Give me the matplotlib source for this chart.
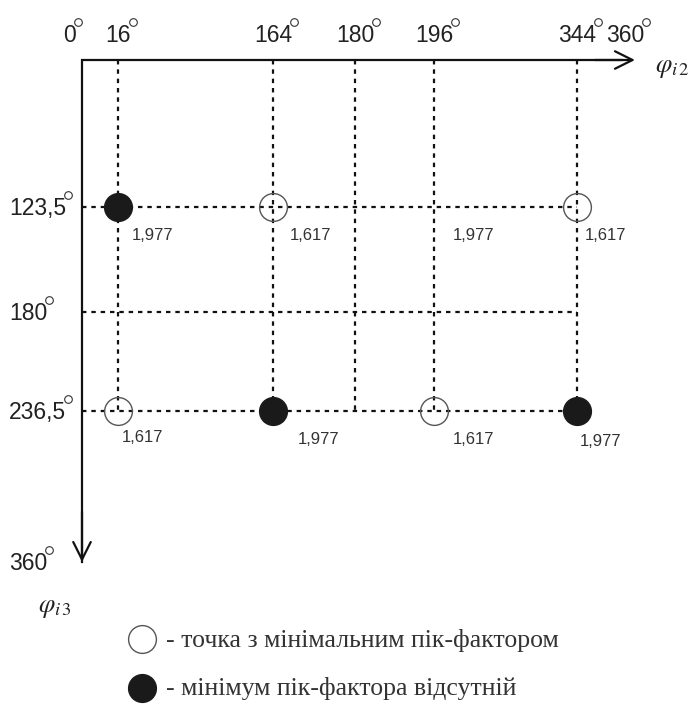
import numpy as np
import matplotlib.pyplot as plt
from matplotlib.lines import Line2D
from matplotlib.transforms import blended_transform_factory, offset_copy

plt.rcParams['font.family'] = ['Liberation Sans', 'DejaVu Sans']
plt.rcParams['mathtext.fontset'] = 'stix'

# phase grid (degrees)
phi2_ticks = [0, 16, 164, 180, 196, 344, 360]
phi3_ticks = [123.5, 180, 236.5, 360]
phi2_lines = [16, 164, 180, 196, 344]
phi3_lines = [123.5, 180, 236.5]

# crest factor at grid nodes
pt_phi2 = [16, 164, 196, 344, 16, 164, 196, 344]
pt_phi3 = [123.5, 123.5, 123.5, 123.5, 236.5, 236.5, 236.5, 236.5]
pt_pf = [1.977, 1.617, 1.977, 1.617, 1.617, 1.977, 1.617, 1.977]
pt_kind = ['max', 'min', '', 'min', 'min', 'max', 'min', 'max']

legend_text = ['- точка з мінімальним пік-фактором',
               '- мінімум пік-фактора відсутній']

# schematic (non-uniform) spacing of the axes
x_breaks = [0, 16, 164, 180, 196, 344, 360]
x_sketch = [0, 36, 191, 273, 352, 495, 540]
y_breaks = [0, 123.5, 180, 236.5, 360]
y_sketch = [0, 147, 252, 351, 502]

W, H = 695, 706
fig = plt.figure(figsize=(W / 100, H / 100), dpi=100)
ax = fig.add_axes([82 / W, 1 - 562 / H, 540 / W, 502 / H])

ax.set_xscale('function', functions=(lambda v: np.interp(v, x_breaks, x_sketch),
                                     lambda v: np.interp(v, x_sketch, x_breaks)))
ax.set_yscale('function', functions=(lambda v: np.interp(v, y_breaks, y_sketch),
                                     lambda v: np.interp(v, y_sketch, y_breaks)))
ax.set_xlim(0, 360)
ax.set_ylim(360, 0)
ax.set_xticks([])
ax.set_yticks([])
for s in ax.spines.values():
    s.set_visible(False)

# angle labels (degree ring added after layout)
fs = 16.5
lab_col = '#222222'
angle_labels = []
tx = blended_transform_factory(ax.transData, fig.transFigure)
for t in phi2_ticks:
    nudge = {0: -12, 360: 3}.get(t, 0)
    trans = offset_copy(tx, fig=fig, x=nudge, y=0, units='dots')
    angle_labels.append(ax.text(t, 1 - 42 / H, f'{t:g}', transform=trans,
                                ha='center', va='baseline', fontsize=fs,
                                color=lab_col))
ty = blended_transform_factory(fig.transFigure, ax.transData)
for t in phi3_ticks:
    trans = offset_copy(ty, fig=fig, x=0, y=-8, units='dots')
    angle_labels.append(ax.text(9 / W, t, f'{t:g}'.replace('.', ','),
                                transform=trans, ha='left', va='baseline',
                                fontsize=fs, color=lab_col, clip_on=False))

# dotted grid
dash = dict(color='#111111', lw=1.6, ls=(0, (2, 2.2)), zorder=1)
for y in phi3_lines:
    ax.plot([0, max(phi2_lines)], [y, y], **dash)
for x in phi2_lines:
    ax.plot([x, x], [0, max(phi3_lines)], **dash)

# axes with arrows
ax.plot([1.0, 0, 0], [1, 1, 0], transform=ax.transAxes, color='#111111',
        lw=1.6, clip_on=False, solid_joinstyle='miter', zorder=3)
arrow = dict(arrowstyle='->,head_length=0.7,head_width=0.35', color='#111111',
             lw=1.6, shrinkA=0, shrinkB=0, mutation_scale=18)
ax.annotate('', xy=(1.024, 1), xytext=(0.95, 1), xycoords='axes fraction',
            arrowprops=arrow, annotation_clip=False)
ax.annotate('', xy=(0, 0), xytext=(0, 0.1), xycoords='axes fraction',
            arrowprops=arrow, annotation_clip=False)

# nodes
lab_dx = [14, 17, 19, 8, 4, 25, 19, 3]
lab_dy = [29, 29, 29, 29, 27, 29, 29, 31]
for x, y, pf, k, dx, dy in zip(pt_phi2, pt_phi3, pt_pf, pt_kind, lab_dx, lab_dy):
    if k == 'min':
        ax.plot(x, y, 'o', ms=20, mfc='none', mec='#555555', mew=1.0, zorder=4)
    elif k == 'max':
        ax.plot(x, y, 'o', ms=20, mfc='#1a1a1a', mec='#1a1a1a', zorder=4)
    ax.annotate(f'{pf:.3f}'.replace('.', ','), (x, y), xytext=(dx, -dy),
                textcoords='offset pixels', ha='left', va='center',
                fontsize=12, color='#333333')

# axis names
fig.text(672 / W, 1 - 68 / H, r'$\varphi_{i\,2}$', fontsize=19,
         ha='center', va='center', color='#222222')
fig.text(55 / W, 1 - 608 / H, r'$\varphi_{i\,3}$', fontsize=19,
         ha='center', va='center', color='#222222')

# legend
fig.add_artist(Line2D([142 / W], [1 - 639 / H], marker='o', ms=20, mfc='none',
                      mec='#555555', mew=1.0))
fig.add_artist(Line2D([142 / W], [1 - 688 / H], marker='o', ms=20,
                      mfc='#1a1a1a', mec='#1a1a1a'))
for i, t in enumerate(legend_text):
    fig.text(166 / W, 1 - (640 + 49 * i) / H, t, fontsize=18.5,
             family='Liberation Serif', ha='left', va='center', color='#333333')

# degree rings just above the top-right corner of each angle label
fig.canvas.draw()
rend = fig.canvas.get_renderer()
cap = 0.716 * fs * 100 / 72
for lab in angle_labels:
    bb = lab.get_window_extent(rend)
    base = lab.get_transform().transform(lab.get_position())[1]
    cx, cy = fig.transFigure.inverted().transform((bb.x1 + 2, base + cap + 4))
    fig.add_artist(Line2D([cx], [cy], marker='o', ms=5.5, mfc='none',
                          mec='#333333', mew=0.8))

fig.savefig('out.png', dpi=100)
